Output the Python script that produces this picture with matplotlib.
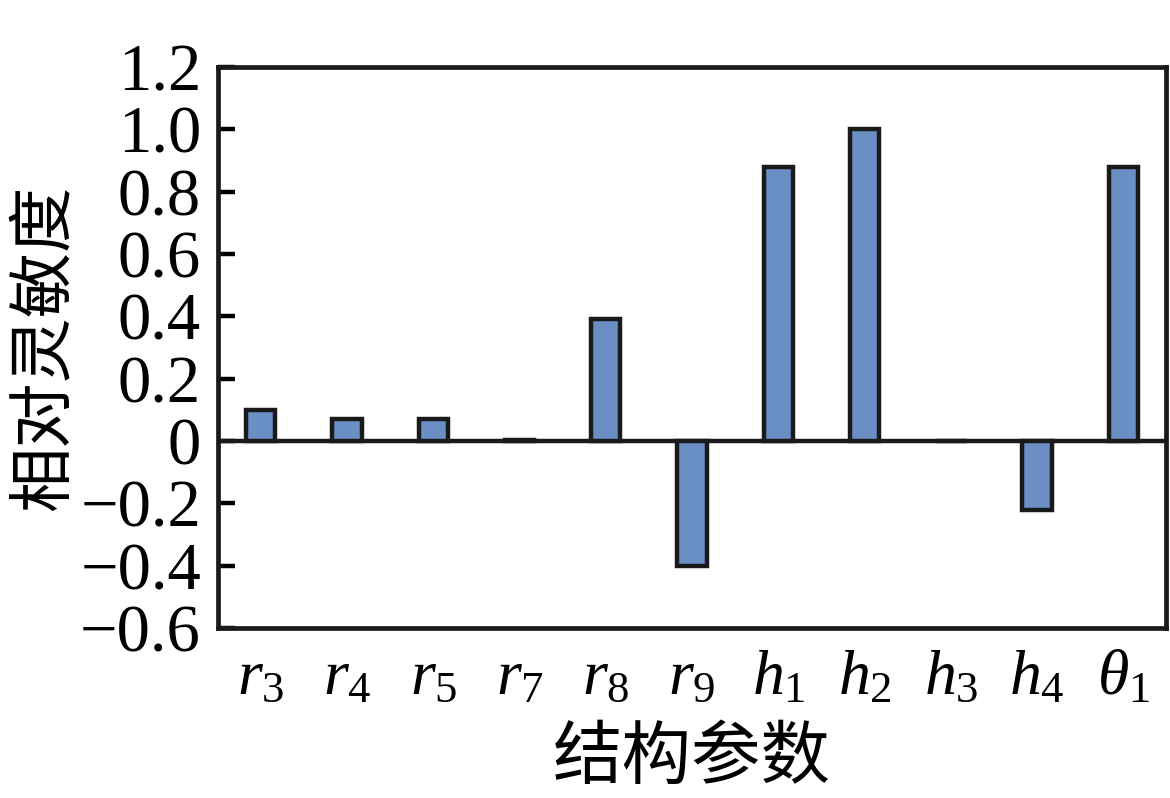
import numpy as np
import matplotlib.pyplot as plt

plt.rcParams['font.family'] = ['Liberation Serif', 'Noto Sans CJK SC']
plt.rcParams['mathtext.fontset'] = 'custom'
plt.rcParams['mathtext.rm'] = 'Liberation Serif'
plt.rcParams['mathtext.it'] = 'Liberation Serif:italic'

# data
params = [r'$r_3$', r'$r_4$', r'$r_5$', r'$r_7$', r'$r_8$', r'$r_9$',
          r'$h_1$', r'$h_2$', r'$h_3$', r'$h_4$', r'$\theta_1$']
sensitivity = [0.10, 0.07, 0.07, 0.003, 0.39, -0.40, 0.88, 1.00, 0.0, -0.22, 0.88]
yticks = [1.2, 1.0, 0.8, 0.6, 0.4, 0.2, 0, -0.2, -0.4, -0.6]
ytick_labels = ['1.2', '1.0', '0.8', '0.6', '0.4', '0.2', '0', '\u22120.2', '\u22120.4', '\u22120.6']

fig = plt.figure(figsize=(11.7, 7.98), dpi=100)
ax = fig.add_axes([0.186, 0.213, 0.811, 0.703])

x = np.arange(len(params))
ax.bar(x, sensitivity, width=0.34, color='#6a8fc4', edgecolor='#1a1a1a', linewidth=3.2, zorder=3)
ax.axhline(0, color='#1a1a1a', linewidth=3.2, zorder=2)

ax.set_xlim(-0.5, len(params) - 0.5)
ax.set_ylim(-0.6, 1.2)
ax.set_yticks(yticks)
ax.set_yticklabels(ytick_labels, fontsize=48)
ax.set_xticks(x)
ax.set_xticklabels(params, fontsize=46)
ax.tick_params(axis='y', direction='in', length=12, width=3.2, pad=12)
ax.tick_params(axis='x', length=0, pad=16)
for s in ax.spines.values():
    s.set_linewidth(3.4)
    s.set_color('#1a1a1a')

ax.set_xlabel('结构参数', fontsize=50, family='Noto Sans CJK SC', labelpad=10)
ax.set_ylabel('相对灵敏度', fontsize=47, family='Noto Sans CJK SC', labelpad=2)

fig.savefig('out.png', dpi=100)
